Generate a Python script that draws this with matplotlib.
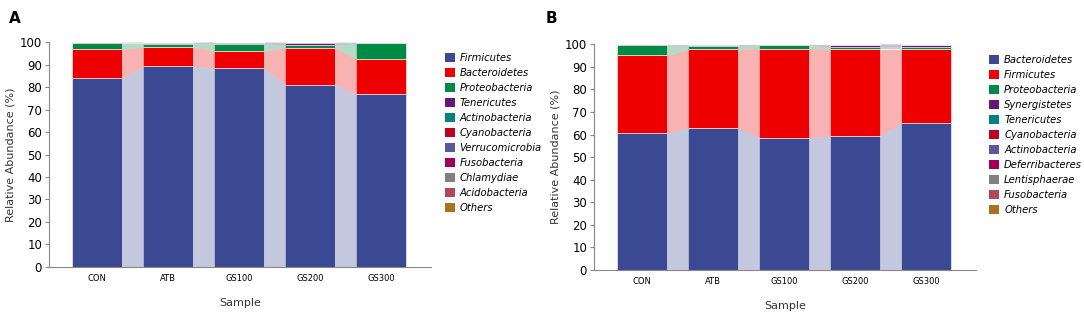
# Relative abundance of phyla per sample (stacked bars with connecting bands)

import matplotlib.pyplot as plt
from matplotlib.patches import Patch

samples = ["CON", "ATB", "GS100", "GS200", "GS300"]

# panel A
phyla_A = ["Firmicutes", "Bacteroidetes", "Proteobacteria", "Tenericutes", "Actinobacteria",
           "Cyanobacteria", "Verrucomicrobia", "Fusobacteria", "Chlamydiae", "Acidobacteria", "Others"]
firmicutes_A = [83.9, 89.3, 88.4, 81.0, 77.0]
bacteroidetes_A = [12.8, 8.5, 7.7, 16.5, 15.4]
proteobacteria_A = [2.7, 1.5, 3.2, 1.0, 7.0]
tenericutes_A = [0.1, 0.2, 0.4, 1.0, 0.2]
actinobacteria_A = [0.1, 0.1, 0.1, 0.2, 0.1]
cyanobacteria_A = [0.1, 0.1, 0.05, 0.1, 0.05]
verrucomicrobia_A = [0.05, 0.1, 0.05, 0.05, 0.05]
fusobacteria_A = [0.05, 0.1, 0.05, 0.05, 0.05]
chlamydiae_A = [0.05, 0.05, 0.05, 0.05, 0.05]
acidobacteria_A = [0.05, 0.05, 0.05, 0.05, 0.05]
others_A = [0.1, 0.0, 0.0, 0.0, 0.05]

# panel B
phyla_B = ["Bacteroidetes", "Firmicutes", "Proteobacteria", "Synergistetes", "Tenericutes",
           "Cyanobacteria", "Actinobacteria", "Deferribacteres", "Lentisphaerae", "Fusobacteria", "Others"]
bacteroidetes_B = [60.6, 63.0, 58.6, 59.4, 65.0]
firmicutes_B = [34.5, 34.8, 39.5, 38.4, 32.8]
proteobacteria_B = [4.5, 1.4, 1.4, 1.0, 1.0]
synergistetes_B = [0.1, 0.4, 0.2, 0.7, 0.7]
tenericutes_B = [0.1, 0.1, 0.1, 0.2, 0.2]
cyanobacteria_B = [0.05, 0.1, 0.1, 0.1, 0.1]
actinobacteria_B = [0.05, 0.05, 0.05, 0.05, 0.05]
deferribacteres_B = [0.05, 0.05, 0.0, 0.05, 0.05]
lentisphaerae_B = [0.0, 0.05, 0.0, 0.05, 0.05]
fusobacteria_B = [0.0, 0.0, 0.0, 0.0, 0.0]
others_B = [0.05, 0.05, 0.05, 0.05, 0.05]

colors = ["#3B4992", "#EE0000", "#008B45", "#631879", "#008280", "#BB0021",
          "#5F559B", "#A20056", "#808180", "#B24756", "#A8731E"]

data_A = [firmicutes_A, bacteroidetes_A, proteobacteria_A, tenericutes_A, actinobacteria_A,
          cyanobacteria_A, verrucomicrobia_A, fusobacteria_A, chlamydiae_A, acidobacteria_A, others_A]
data_B = [bacteroidetes_B, firmicutes_B, proteobacteria_B, synergistetes_B, tenericutes_B,
          cyanobacteria_B, actinobacteria_B, deferribacteres_B, lentisphaerae_B, fusobacteria_B, others_B]

width = 0.7
grey = "#888888"


def stacked(ax, data, labels):
    x = list(range(len(samples)))
    bottom = [0.0] * len(samples)
    for vals, col in zip(data, colors):
        top = [b + v for b, v in zip(bottom, vals)]
        ax.bar(x, vals, width, bottom=bottom, color=col, edgecolor="white", linewidth=0.4)
        # connecting bands between neighbouring bars
        for i in range(len(samples) - 1):
            xs = [x[i] + width / 2, x[i + 1] - width / 2]
            ax.fill_between(xs, [bottom[i], bottom[i + 1]], [top[i], top[i + 1]],
                            color=col, alpha=0.3, linewidth=0)
        bottom = top

    ax.set_xlim(-0.68, 4.7)
    ax.set_ylim(0, 100)
    ax.set_yticks(range(0, 101, 10))
    ax.set_xticks(x)
    ax.set_xticklabels(samples, fontsize=6)
    ax.tick_params(axis="x", length=0, pad=5)
    ax.tick_params(axis="y", labelsize=8.5, length=3, color=grey, pad=2)
    for s in ["top", "right"]:
        ax.spines[s].set_visible(False)
    for s in ["left", "bottom"]:
        ax.spines[s].set_color(grey)
        ax.spines[s].set_linewidth(0.8)
    ax.set_xlabel("Sample", fontsize=8, color="#333333", labelpad=11)
    ax.set_ylabel("Relative Abundance (%)", fontsize=8, color="#333333", labelpad=3)

    handles = [Patch(facecolor=c, label=l) for c, l in zip(colors, labels)]
    ax.legend(handles=handles, loc="upper left", bbox_to_anchor=(1.025, 0.97), frameon=False,
              prop={"style": "italic", "size": 7.2}, handlelength=1.0, handleheight=1.0,
              labelspacing=0.5, handletextpad=0.5, borderaxespad=0)


fig = plt.figure(figsize=(10.84, 3.18), dpi=100)
ax1 = fig.add_axes([0.0452, 0.1604, 0.3524, 0.7075])
ax2 = fig.add_axes([0.548, 0.151, 0.352, 0.7097])

stacked(ax1, data_A, phyla_A)
stacked(ax2, data_B, phyla_B)

fig.text(0.008, 0.965, "A", fontsize=11, fontweight="bold", va="top")
fig.text(0.503, 0.965, "B", fontsize=11, fontweight="bold", va="top")

fig.savefig("out.png", dpi=100)
